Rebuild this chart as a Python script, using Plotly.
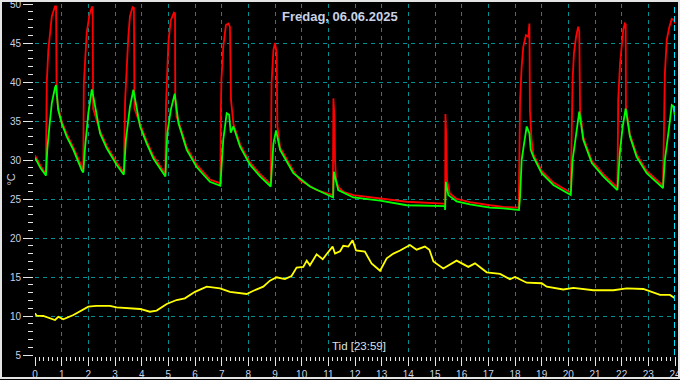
import plotly.graph_objects as go

# ---- data (hours of day, °C) ----
hours = list(range(0, 25))
y_ticks = [5, 10, 15, 20, 25, 30, 35, 40, 45, 50]

red_t = [0.00, 0.20, 0.41, 0.44, 0.50, 0.56, 0.63, 0.75, 0.79, 0.81, 0.87, 1.00, 1.19, 1.44, 1.75, 1.81,
         1.83, 1.88, 1.94, 2.04, 2.13, 2.16, 2.18, 2.44, 2.69, 3.06, 3.33,
         3.38, 3.44, 3.50, 3.56, 3.66, 3.71, 3.73, 3.94, 4.19, 4.44, 4.89,
         4.91, 4.94, 5.00, 5.09, 5.21, 5.25, 5.26, 5.31, 5.38, 5.69, 6.06, 6.56, 6.95,
         6.97, 6.99, 7.06, 7.16, 7.25, 7.31, 7.35, 7.44, 7.69, 8.06, 8.44, 8.84,
         8.87, 8.94, 9.00, 9.06, 9.09, 9.19, 9.69, 9.94, 10.56, 11.17,
         11.19, 11.23, 11.25, 11.29, 11.37, 11.56, 11.94, 12.94, 13.94, 15.31, 15.38,
         15.39, 15.42, 15.45, 15.56, 15.81, 16.31, 17.06, 17.56, 18.14,
         18.19, 18.25, 18.31, 18.41, 18.50, 18.54, 18.56, 18.62, 18.69, 19.00, 19.44, 20.09,
         20.12, 20.16, 20.21, 20.29, 20.37, 20.41, 20.44, 20.56, 20.88, 21.31, 21.84,
         21.87, 21.94, 22.00, 22.06, 22.12, 22.15, 22.16, 22.31, 22.56, 22.94, 23.55,
         23.59, 23.62, 23.69, 23.79, 23.88, 23.96, 24.00]
red_v = [30.6, 29.3, 28.2, 39.8, 44.1, 46.2, 48.4, 49.7, 49.7, 38.6, 36.7, 35.0, 33.3, 31.6, 29.0, 28.7,
         39.8, 43.3, 46.3, 48.6, 49.6, 49.6, 36.6, 33.7, 31.8, 29.7, 28.4,
         37.7, 42.0, 45.8, 48.4, 49.6, 49.5, 36.6, 34.6, 32.4, 30.5, 28.2,
         36.8, 39.8, 45.0, 47.9, 48.9, 48.8, 37.7, 35.5, 35.0, 31.6, 29.4, 27.5, 27.0,
         36.4, 40.3, 44.5, 47.3, 47.5, 47.1, 37.7, 34.6, 32.0, 29.7, 28.2, 26.9,
         39.8, 44.1, 45.0, 43.7, 34.3, 31.6, 28.6, 27.4, 26.15, 25.5,
         37.9, 35.5, 30.0, 27.4, 26.6, 25.9, 25.5, 25.1, 24.65, 24.4, 24.3,
         35.9, 33.2, 27.4, 25.7, 25.0, 24.6, 24.2, 24.0, 23.9,
         37.7, 42.0, 44.5, 46.0, 45.8, 47.5, 36.4, 32.6, 30.7, 28.6, 27.1, 25.8,
         35.5, 40.3, 43.7, 45.8, 47.1, 46.5, 36.4, 32.9, 29.9, 28.2, 26.45,
         37.7, 42.4, 45.0, 46.7, 47.5, 47.4, 36.8, 33.3, 30.7, 28.6, 26.7,
         35.1, 41.1, 45.4, 47.1, 48.1, 48.0, 47.5]

green_t = [0.00, 0.20, 0.41, 0.46, 0.54, 0.63, 0.75, 0.79, 0.87, 1.00, 1.19, 1.44, 1.75, 1.81,
           1.88, 2.00, 2.13, 2.19, 2.44, 2.69, 3.06, 3.33,
           3.41, 3.56, 3.69, 3.94, 4.19, 4.44, 4.89,
           4.96, 5.09, 5.24, 5.38, 5.69, 6.06, 6.56, 6.95,
           7.06, 7.19, 7.28, 7.34, 7.44, 7.69, 8.06, 8.44, 8.84,
           8.94, 9.04, 9.19, 9.69, 10.31, 11.06, 11.18,
           11.21, 11.37, 11.94, 12.94, 13.94, 15.37, 15.38,
           15.41, 15.50, 15.81, 16.31, 17.06, 17.56, 18.15,
           18.19, 18.25, 18.34, 18.44, 18.54, 18.59, 18.69, 19.00, 19.44, 20.09,
           20.16, 20.29, 20.41, 20.56, 20.88, 21.31, 21.84,
           21.94, 22.04, 22.15, 22.31, 22.56, 22.94, 23.55,
           23.62, 23.75, 23.88, 23.94, 24.00]
green_v = [30.3, 29.0, 28.0, 31.3, 34.3, 37.3, 39.3, 39.6, 36.4, 34.7, 33.0, 31.3, 28.7, 28.4,
           31.7, 36.0, 39.05, 38.1, 33.4, 31.5, 29.4, 28.1,
           32.6, 36.8, 39.0, 34.3, 32.1, 30.2, 27.9,
           33.4, 36.4, 38.5, 34.7, 31.3, 29.1, 27.2, 26.7,
           32.6, 36.0, 35.8, 33.5, 34.3, 31.7, 29.4, 27.9, 26.6,
           32.1, 33.8, 31.3, 28.3, 26.6, 25.4, 25.2,
           28.5, 26.15, 25.2, 24.8, 24.2, 24.1, 23.6,
           27.2, 25.5, 24.7, 24.3, 23.9, 23.8, 23.6,
           25.3, 30.0, 32.1, 34.3, 33.4, 31.3, 30.4, 28.3, 26.8, 25.5,
           30.0, 33.4, 36.2, 32.6, 29.6, 27.9, 26.15,
           31.3, 34.3, 36.6, 33.0, 30.4, 28.3, 26.4,
           30.0, 33.4, 37.05, 36.9, 35.5]

yellow_t = [0.00, 0.06, 0.31, 0.75, 0.875, 1.06, 1.44, 1.81, 2.00, 2.31, 2.81, 3.06, 3.56, 3.94, 4.31,
            4.56, 4.94, 5.31, 5.62, 6.00, 6.44, 6.94, 7.31, 7.94, 8.19, 8.56, 8.81, 9.06, 9.37, 9.62,
            9.81, 10.06, 10.19, 10.31, 10.56, 10.79, 10.94, 11.16, 11.25, 11.44, 11.56, 11.75, 11.91,
            12.04, 12.37, 12.62, 12.94, 13.19, 13.44, 13.69, 14.06, 14.31, 14.62, 14.79, 14.94, 15.31,
            15.81, 16.25, 16.50, 16.94, 17.44, 17.81, 18.00, 18.44, 19.00, 19.19, 19.81, 20.19, 20.94,
            21.69, 22.19, 22.81, 23.44, 23.81, 24.00]
yellow_v = [10.35, 10.04, 10.0, 9.49, 9.9, 9.57, 10.13, 10.86, 11.2, 11.3, 11.3, 11.1, 11.0, 10.9, 10.55,
            10.7, 11.54, 12.05, 12.27, 13.1, 13.76, 13.55, 13.1, 12.82, 13.24, 13.76, 14.53, 14.96, 14.74, 15.13,
            16.2, 16.3, 17.1, 16.5, 17.9, 17.27, 17.95, 18.9, 18.0, 18.3, 19.0, 18.9, 19.7,
            18.4, 18.25, 16.75, 15.8, 17.4, 18.0, 18.4, 19.1, 18.5, 18.9, 18.5, 17.0, 16.1,
            17.1, 16.3, 16.75, 15.6, 15.4, 14.7, 15.0, 14.27, 14.2, 13.76, 13.4, 13.6, 13.3,
            13.3, 13.55, 13.46, 12.7, 12.7, 12.27]

title_text = "Fredag, 06.06.2025"
xlabel_text = "Tid [23:59]"
ylabel_text = "°C"
now_hour = 24

TXT = "#c8d2e4"
TICK = "#e6e6e6"
GRID = "#009090"
FONT = "Liberation Sans, Arial, sans-serif"

fig = go.Figure()
fig.add_trace(go.Scatter(x=yellow_t, y=yellow_v, mode="lines",
                         line=dict(color="#ffff00", width=1.8), hoverinfo="skip"))
fig.add_trace(go.Scatter(x=red_t, y=red_v, mode="lines",
                         line=dict(color="#ff0000", width=1.8), hoverinfo="skip"))
fig.add_trace(go.Scatter(x=green_t, y=green_v, mode="lines",
                         line=dict(color="#00ff00", width=1.8), hoverinfo="skip"))

fig.update_layout(
    width=680, height=380,
    margin=dict(l=35, r=5, t=4, b=25, autoexpand=False),
    paper_bgcolor="#000000", plot_bgcolor="#000000",
    showlegend=False,
    font=dict(family=FONT, size=10, color=TXT),
    xaxis=dict(range=[0, 24], tickvals=hours, ticktext=[str(h) for h in hours],
               automargin=False, ticklabeloverflow="allow",
               ticks="outside", ticklen=9, tickwidth=1, tickcolor=TICK,
               showgrid=True, gridcolor=GRID, griddash="4px,4px", gridwidth=1,
               zeroline=False, showline=True, linecolor="#000000", linewidth=2, mirror=True,
               minor=dict(dtick=1/6, ticks="outside", ticklen=4, tickcolor=TICK, showgrid=False),
               tickfont=dict(family=FONT, size=10, color=TXT), fixedrange=True),
    yaxis=dict(range=[5, 50], tickvals=y_ticks,
               automargin=False, ticklabeloverflow="allow",
               ticks="outside", ticklen=10, tickwidth=1, tickcolor=TICK,
               showgrid=True, gridcolor=GRID, griddash="4px,4px", gridwidth=1,
               zeroline=False, showline=True, linecolor="#000000", linewidth=2, mirror=True,
               minor=dict(dtick=1, ticks="outside", ticklen=5, tickcolor=TICK, showgrid=False),
               tickfont=dict(family=FONT, size=10, color=TXT), fixedrange=True),
)

fig.add_shape(type="line", xref="x", yref="paper", x0=now_hour, x1=now_hour, y0=0, y1=1,
              line=dict(color="#00e5ff", width=2, dash="6px,3px"), layer="above")
fig.add_shape(type="rect", xref="paper", yref="paper",
              x0=-0.053125, x1=1.00625, y0=-0.0655, y1=1.0085,
              line=dict(color="#e4e4e4", width=2), layer="above")

fig.add_annotation(text="<b>" + title_text + "</b>", xref="paper", yref="paper",
                   x=0.4766, y=0.963, xanchor="center", yanchor="middle", showarrow=False,
                   font=dict(family=FONT, size=13, color=TXT))
fig.add_annotation(text=xlabel_text, xref="paper", yref="paper",
                   x=0.506, y=0.003, xanchor="center", yanchor="bottom", showarrow=False,
                   font=dict(family=FONT, size=11.5, color="#d8e0ee"))
fig.add_annotation(text=ylabel_text, xref="paper", yref="paper",
                   x=-0.039, y=0.5, xanchor="center", yanchor="middle", textangle=-90,
                   showarrow=False, font=dict(family=FONT, size=11, color=TXT))

fig.write_html("out.html", config={"displayModeBar": False},
               post_script="document.body.style.margin='0px';document.body.style.background='#000';")
